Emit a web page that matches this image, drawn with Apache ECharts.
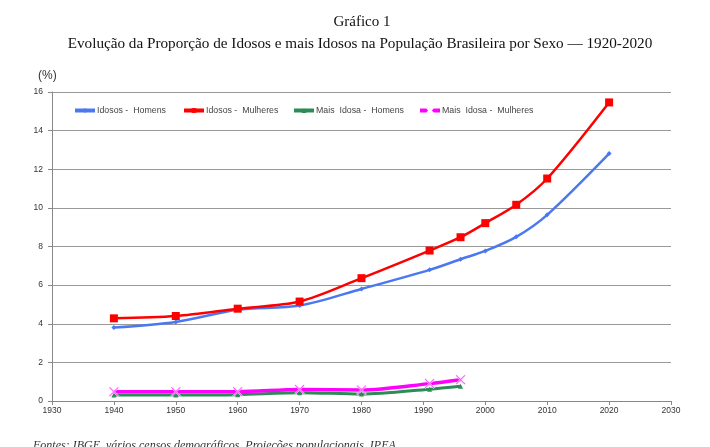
<!DOCTYPE html>
<html><head><meta charset="utf-8">
<script src="https://cdn.jsdelivr.net/npm/echarts@6/dist/echarts.min.js"></script>
<style>html,body{margin:0;padding:0;background:#fff}#c{width:710px;height:447px}</style>
</head><body><div id="c"></div>
<script>
const yearsIdosos = [1940, 1950, 1960, 1970, 1980, 1991, 1996, 2000, 2005, 2010, 2020];
const idososHomens = [3.80, 4.09, 4.72, 4.94, 5.80, 6.79, 7.34, 7.77, 8.50, 9.64, 12.81];
const idososMulheres = [4.28, 4.40, 4.78, 5.15, 6.36, 7.79, 8.48, 9.21, 10.16, 11.52, 15.46];
const yearsMais = [1940, 1950, 1960, 1970, 1980, 1991, 1996];
const maisHomens = [0.31, 0.31, 0.33, 0.43, 0.36, 0.61, 0.76];
const maisMulheres = [0.48, 0.48, 0.48, 0.60, 0.57, 0.90, 1.10];
const seriesNames = ['Idosos -  Homens', 'Idosos -  Mulheres', 'Mais  Idosa -  Homens', 'Mais  Idosa -  Mulheres'];
const xTicks = [1930, 1940, 1950, 1960, 1970, 1980, 1990, 2000, 2010, 2020, 2030];

const pair = (xs, ys) => xs.map((x, i) => [x, ys[i]]);
const xSym = 'path://M0,1 L1,0 L5,4 L9,0 L10,1 L6,5 L10,9 L9,10 L5,6 L1,10 L0,9 L4,5 Z';

const chart = echarts.init(document.getElementById('c'));
const legendBase = {top: 106, itemWidth: 20, itemHeight: 6, itemGap: 4, padding: 0,
  lineStyle: {width: 4}, textStyle: {fontFamily: 'Liberation Sans, Arial', fontSize: 8.8, color: '#444', padding: [0, 0, 0, -3]}};
chart.setOption({
  animation: false,
  title: [
    {text: 'Gráfico 1', left: 357, textAlign: 'center', top: 10,
      textStyle: {fontFamily: 'Liberation Serif, Times New Roman', fontSize: 15, fontWeight: 'normal', color: '#111'}},
    {text: 'Evolução da Proporção de Idosos e mais Idosos na População Brasileira por Sexo — 1920-2020', left: 355, textAlign: 'center', top: 32,
      textStyle: {fontFamily: 'Liberation Serif, Times New Roman', fontSize: 15.2, fontWeight: 'normal', color: '#111'}},
    {text: '(%)', left: 33, top: 65,
      textStyle: {fontFamily: 'Liberation Sans, Arial', fontSize: 12, fontWeight: 'normal', color: '#333'}},
    {text: 'Fontes: IBGE, vários censos demográficos. Projeções populacionais, IPEA.', left: 28, top: 435,
      textStyle: {fontFamily: 'Liberation Serif, Times New Roman', fontSize: 12, fontStyle: 'italic', fontWeight: 'normal', color: '#333'}}
  ],
  legend: [
    Object.assign({}, legendBase, {left: 73, data: [seriesNames[0]]}),
    Object.assign({}, legendBase, {left: 182, data: [seriesNames[1]]}),
    Object.assign({}, legendBase, {left: 292, data: [seriesNames[2]]}),
    Object.assign({}, legendBase, {left: 418, data: [seriesNames[3]]})
  ],
  grid: {left: 52, right: 39, top: 92, bottom: 46, containLabel: false},
  xAxis: {
    type: 'value', min: 1930, max: 2030, interval: 10,
    axisLine: {lineStyle: {color: '#888', width: 1}},
    axisTick: {show: true, length: 4, lineStyle: {color: '#888'}},
    axisLabel: {fontFamily: 'Liberation Sans, Arial', fontSize: 8.5, color: '#333', margin: 5,
      formatter: v => xTicks.includes(v) ? String(v) : ''},
    splitLine: {show: false}
  },
  yAxis: {
    type: 'value', min: 0, max: 16, interval: 2,
    axisLine: {show: true, lineStyle: {color: '#888', width: 1}},
    axisTick: {show: true, length: 4, lineStyle: {color: '#888'}},
    axisLabel: {fontFamily: 'Liberation Sans, Arial', fontSize: 8.5, color: '#333', margin: 9},
    splitLine: {show: true, lineStyle: {color: '#999', width: 1.2}}
  },
  series: [
    {name: seriesNames[0], type: 'line', smooth: 0.3, data: pair(yearsIdosos, idososHomens),
      symbol: 'diamond', symbolSize: 5, lineStyle: {color: '#4a78f0', width: 2.5},
      itemStyle: {color: '#4a78f0'}, z: 3},
    {name: seriesNames[1], type: 'line', smooth: 0.3, data: pair(yearsIdosos, idososMulheres),
      symbol: 'rect', symbolSize: 8, lineStyle: {color: '#ff0000', width: 2.5},
      itemStyle: {color: '#ff0000'}, z: 4},
    {name: seriesNames[2], type: 'line', smooth: 0.3, data: pair(yearsMais, maisHomens),
      symbol: 'triangle', symbolSize: 5, lineStyle: {color: '#2e8b57', width: 3},
      itemStyle: {color: '#2e8b57'}, z: 3},
    {name: seriesNames[3], type: 'line', smooth: 0.3, data: pair(yearsMais, maisMulheres),
      symbol: xSym, symbolSize: 10, lineStyle: {color: '#ff00ff', width: 3.5},
      itemStyle: {color: '#ff55ff', borderColor: '#ffffff', borderWidth: 0.5}, z: 4}
  ]
});
</script></body></html>
